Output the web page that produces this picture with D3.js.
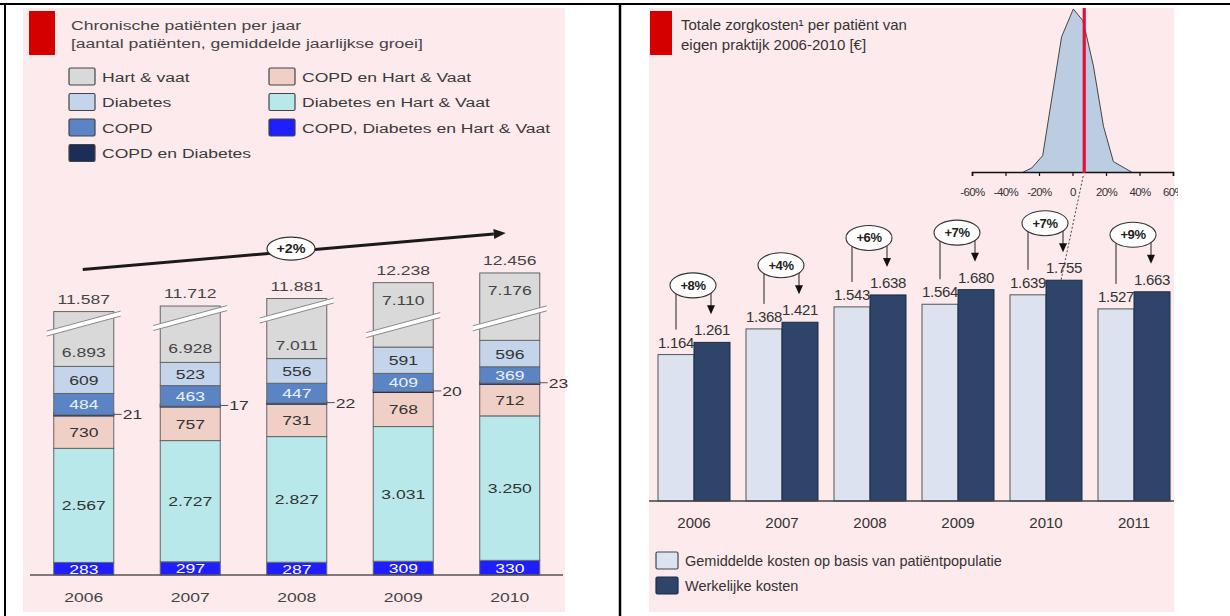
<!DOCTYPE html>
<html><head><meta charset="utf-8">
<script src="https://cdn.jsdelivr.net/npm/d3@7"></script>
<style>
body{margin:0;background:#fff}
svg{display:block}
text{font-family:"Liberation Sans",Arial,sans-serif}
</style>
</head><body>
<svg id="c" width="1230" height="616"></svg>
<script>
// ---------------- DATA ----------------
const years = ["2006","2007","2008","2009","2010"];
const hartVaat = [6893,6928,7011,7110,7176];
const diabetes = [609,523,556,591,596];
const copd = [484,463,447,409,369];
const copdDiabetes = [21,17,22,20,23];
const copdHartVaat = [730,757,731,768,712];
const diabetesHartVaat = [2567,2727,2827,3031,3250];
const copdDiabetesHartVaat = [283,297,287,309,330];
const totals = [11587,11712,11881,12238,12456];
const totalGrowth = "+2%";

const costYears = ["2006","2007","2008","2009","2010","2011"];
const avgCost = [1164,1368,1543,1564,1639,1527];
const actualCost = [1261,1421,1638,1680,1755,1663];
const costGrowth = ["+8%","+4%","+6%","+7%","+7%","+9%"];

const histPct  = [-29.4,-24.4,-17.8,-6.5,0.5,6.1,8.5,12.5,18.5,24.4,30.3,35.3];
const histFreq = [0,2.4,10,83,100,93,83,65,28,6.4,2.9,0];
const histTicks = [-60,-40,-20,0,20,40,60];
const ownGrowth = 7;

// ---------------- HELPERS ----------------
const nl = d3.formatLocale({decimal:",",thousands:".",grouping:[3],currency:["€",""]});
const fmt = nl.format(",d");
const svg = d3.select("#c");
function T(sel,x,y,s,o={}){
  const t = sel.append("text")
    .attr("transform",`translate(${x},${y}) scale(${o.sx||1},1)`)
    .attr("text-anchor",o.anchor||"start")
    .attr("font-size",o.size||14)
    .attr("fill",o.fill||"#333")
    .text(s);
  if(o.weight) t.attr("font-weight",o.weight);
  if(o.ls) t.attr("letter-spacing",o.ls);
  return t;
}
const PINK="#fdeaec", RED="#d40000";

svg.append("rect").attr("width",1230).attr("height",616).attr("fill","#fff");

// ================= LEFT PANEL =================
const L = svg.append("g");
L.append("rect").attr("x",23).attr("y",8).attr("width",542).attr("height",604).attr("fill",PINK);
L.append("rect").attr("x",29).attr("y",11).attr("width",26).attr("height",44).attr("fill",RED);
const LS = 1.3, LF = 13.5;
T(L,71,30,"Chronische patiënten per jaar",{sx:LS,size:LF,fill:"#444"});
T(L,71,48,"[aantal patiënten, gemiddelde jaarlijkse groei]",{sx:LS,size:LF,fill:"#444"});

const series = [
  {key:"cdh", name:"COPD, Diabetes en Hart & Vaat", vals:copdDiabetesHartVaat, fill:"#1e1eff", lab:"#fff"},
  {key:"dh",  name:"Diabetes en Hart & Vaat", vals:diabetesHartVaat, fill:"#b9e8ea", lab:"#333"},
  {key:"ch",  name:"COPD en Hart & Vaat", vals:copdHartVaat, fill:"#f0d0c6", lab:"#333"},
  {key:"cd",  name:"COPD en Diabetes", vals:copdDiabetes, fill:"#1c2d57", lab:"#333", outside:true},
  {key:"c",   name:"COPD", vals:copd, fill:"#5a84c4", lab:"#eef2fa"},
  {key:"d",   name:"Diabetes", vals:diabetes, fill:"#c4d4ea", lab:"#333"},
  {key:"h",   name:"Hart & vaat", vals:hartVaat, fill:"#d9d9d9", lab:"#444"}
];
const legendOrder = [["h","d","c","cd"],["ch","dh","cdh"]];
const sByKey = Object.fromEntries(series.map(s=>[s.key,s]));
legendOrder.forEach((col,ci)=>{
  col.forEach((k,ri)=>{
    const s = sByKey[k];
    const x = ci===0?69:269, y = 68+ri*25.5;
    L.append("rect").attr("x",x).attr("y",y).attr("width",26).attr("height",17)
      .attr("fill",s.fill).attr("stroke","#444").attr("stroke-width",1.2).attr("rx",1.5);
    T(L,x+33,y+13.5,s.name,{sx:LS,size:LF,fill:"#3a3a3a"});
  });
});

const rows = years.map((y,i)=>{const r={year:y}; series.forEach(s=>r[s.key]=s.vals[i]); return r;});
const stacked = d3.stack().keys(series.map(s=>s.key))(rows);
const xL = d3.scalePoint().domain(years).range([30.5,563]).padding(0.5);
const yL = d3.scaleLinear().domain([0,10000]).range([575,575-10000/22.5]);
const breakOmit = 5660;              // amount removed by the axis break
const breakAtTop = [true,true,true,false,false];
const BW = 60;

const bars = L.append("g");
stacked.forEach((layer,li)=>{
  const s = series[li];
  layer.forEach((d,i)=>{
    const x0 = xL(years[i]) - BW/2;
    let y0 = yL(d[0]);
    let y1 = s.key==="h" ? yL(d[1]-breakOmit) : yL(d[1]);
    let h = y0-y1;
    if(s.key==="cd"){ h = Math.max(h,3); y1 = y0 - h; }
    bars.append("rect").attr("x",x0).attr("y",y1).attr("width",BW).attr("height",h)
      .attr("fill",s.fill).attr("stroke",s.key==="cd"?"#1c2d57":"#666").attr("stroke-width",1);
  });
});
stacked.forEach((layer,li)=>{
  const s = series[li];
  layer.forEach((d,i)=>{
    const cx = xL(years[i]);
    const y0 = yL(d[0]);
    if(s.key==="h"){
      const top = yL(d[1]-breakOmit);
      const yc = breakAtTop[i] ? top+12 : y0-22;
      const ly = breakAtTop[i] ? y0-14 : top+17;
      const xa = cx-BW/2-7, xb = cx+BW/2+7, rise=10, th=5;
      bars.append("polygon")
        .attr("points",[[xa,yc+rise+th/2],[xb,yc-rise+th/2],[xb,yc-rise-th/2],[xa,yc+rise-th/2]].map(p=>p.join(",")).join(" "))
        .attr("fill","#fff");
      [-th/2, th/2].forEach(o=>{
        bars.append("line").attr("x1",xa).attr("y1",yc+rise+o).attr("x2",xb).attr("y2",yc-rise+o)
          .attr("stroke","#8a8a8a").attr("stroke-width",1);
      });
      T(bars,cx,ly+5,fmt(s.vals[i]),{anchor:"middle",sx:LS,size:LF,fill:s.lab});
      T(bars,cx,top-8,fmt(totals[i]),{anchor:"middle",sx:LS,size:LF,fill:"#444"});
    } else if(s.outside){
      const yc = y0 - Math.max(y0-yL(d[1]),3)/2;
      const xr = cx+BW/2;
      bars.append("line").attr("x1",xr).attr("x2",xr+8).attr("y1",yc).attr("y2",yc).attr("stroke","#555").attr("stroke-width",1);
      T(bars,xr+9,yc+5,fmt(s.vals[i]),{sx:LS,size:LF,fill:s.lab});
    } else {
      const yc = (y0+yL(d[1]))/2;
      T(bars,cx,yc+5,fmt(s.vals[i]),{anchor:"middle",sx:LS,size:LF,fill:s.lab});
    }
  });
});
L.append("line").attr("x1",30).attr("x2",563).attr("y1",575).attr("y2",575).attr("stroke","#555").attr("stroke-width",1.5);
years.forEach(y=>T(L,xL(y),602,y,{anchor:"middle",sx:LS,size:LF,fill:"#444"}));
{
  const t0 = yL(totals[0]-breakOmit), t1 = yL(totals[totals.length-1]-breakOmit);
  const ax = xL(years[0])-1, ay = t0-42, bx = xL(years[years.length-1])-4, by = t1-40;
  const ang = Math.atan2(by-ay,bx-ax);
  const hl = 12, hw = 5;
  const ex = bx - hl*Math.cos(ang), ey = by - hl*Math.sin(ang);
  L.append("line").attr("x1",ax).attr("y1",ay).attr("x2",ex).attr("y2",ey).attr("stroke","#1a1a1a").attr("stroke-width",3);
  L.append("polygon").attr("points",[[bx,by],[ex - hw*Math.sin(ang), ey + hw*Math.cos(ang)],[ex + hw*Math.sin(ang), ey - hw*Math.cos(ang)]].map(p=>p.join(",")).join(" ")).attr("fill","#1a1a1a");
  const mx = 291, my = ay + (mx-ax)/(bx-ax)*(by-ay) - 3;
  L.append("ellipse").attr("cx",mx).attr("cy",my).attr("rx",24).attr("ry",11.5).attr("fill","#fff").attr("stroke","#333").attr("stroke-width",1.2);
  T(L,mx,my+4.5,totalGrowth,{anchor:"middle",size:12.5,sx:1.15,weight:"bold",fill:"#222"});
}

// ================= RIGHT PANEL =================
const R = svg.append("g");
R.append("rect").attr("x",649).attr("y",8).attr("width",525).attr("height",604).attr("fill",PINK);
R.append("rect").attr("x",650).attr("y",11).attr("width",22).attr("height",44).attr("fill",RED);
T(R,681,30,"Totale zorgkosten¹ per patiënt van",{size:15,fill:"#333"});
T(R,681,50,"eigen praktijk 2006-2010 [€]",{size:15,fill:"#333"});

// histogram
const HB = 172;
const hx = d3.scaleLinear().domain([-60,60]).range([972,1173]);
const hy = d3.scaleLinear().domain([0,100]).range([HB,9]);
svg.append("defs").append("clipPath").attr("id","hc").append("rect").attr("x",900).attr("y",0).attr("width",278).attr("height",220);
const H = R.append("g").attr("clip-path","url(#hc)");
H.append("path").datum(histPct.map((p,i)=>[p,histFreq[i]]))
  .attr("d",d3.line().x(d=>hx(d[0])).y(d=>hy(d[1])))
  .attr("fill","#bccde1").attr("stroke","#333").attr("stroke-width",0.9);
const hAxis = d3.axisBottom(hx).tickValues(histTicks).tickSize(4).tickFormat(d=>d===0?"0":d+"%");
const ha = H.append("g").attr("transform",`translate(0,${HB})`).call(hAxis);
ha.select(".domain").attr("stroke","#111").attr("stroke-width",1.6);
ha.selectAll(".tick line").attr("stroke","#111").attr("stroke-width",1.2);
ha.selectAll(".tick text").attr("font-size",11.5).attr("fill","#333").attr("letter-spacing",-0.6)
  .attr("font-family","'Liberation Sans',Arial,sans-serif").attr("y",16);
H.append("line").attr("x1",hx(ownGrowth)).attr("x2",hx(ownGrowth)).attr("y1",8).attr("y2",HB+1)
  .attr("stroke","#e0103c").attr("stroke-width",3.2);

// bars
const xR = d3.scalePoint().domain(costYears).range([650,1178]).padding(0.5);
const yR = d3.scaleLinear().domain([0,2000]).range([501,501-2000*0.1258]);
const RW = 36;
const RB = R.append("g");
costYears.forEach((yr,i)=>{
  const c = xR(yr);
  const ya = yR(avgCost[i]), yb = yR(actualCost[i]);
  RB.append("rect").attr("x",c-RW).attr("y",ya).attr("width",RW).attr("height",yR(0)-ya)
    .attr("fill","#dde2f0").attr("stroke","#555").attr("stroke-width",1);
  RB.append("rect").attr("x",c).attr("y",yb).attr("width",RW).attr("height",yR(0)-yb)
    .attr("fill","#2e4468").attr("stroke","#1d2b44").attr("stroke-width",1);
  T(RB,c-RW/2,ya-7,fmt(avgCost[i]),{anchor:"middle",size:15,fill:"#333",ls:-0.3});
  T(RB,c+RW/2,yb-7,fmt(actualCost[i]),{anchor:"middle",size:15,fill:"#333",ls:-0.3});
  const ey = yb-57, ex = c-1;
  const lx = c-18, rx = c+17;
  RB.append("line").attr("x1",lx).attr("x2",lx).attr("y1",ey).attr("y2",ya-25).attr("stroke","#222").attr("stroke-width",1);
  const tip = yb-28;
  RB.append("line").attr("x1",rx).attr("x2",rx).attr("y1",ey).attr("y2",tip-7).attr("stroke","#222").attr("stroke-width",1);
  RB.append("polygon").attr("points",`${rx-4},${tip-9} ${rx+4},${tip-9} ${rx},${tip}`).attr("fill","#111");
  RB.append("ellipse").attr("cx",ex).attr("cy",ey).attr("rx",23).attr("ry",12.5).attr("fill","#fff").attr("stroke","#333").attr("stroke-width",1.1);
  T(RB,ex,ey+4.5,costGrowth[i],{anchor:"middle",size:13,fill:"#222",weight:"bold",ls:-0.4});
  T(R,c,528,yr,{anchor:"middle",size:15,fill:"#333"});
});
R.append("line").attr("x1",649).attr("x2",1174).attr("y1",yR(0)).attr("y2",yR(0)).attr("stroke","#444").attr("stroke-width",1.5);
{
  const i = costYears.indexOf("2010");
  R.append("line").attr("x1",hx(ownGrowth)-1).attr("y1",HB+4).attr("x2",xR("2010")+RW/2-3).attr("y2",yR(actualCost[i]))
    .attr("stroke","#333").attr("stroke-width",0.9).attr("stroke-dasharray","2,2");
}
[["Gemiddelde kosten op basis van patiëntpopulatie","#dde2f0","#444"],["Werkelijke kosten","#2e4468","#1d2b44"]].forEach((d,i)=>{
  const y = 552+i*25;
  R.append("rect").attr("x",656).attr("y",y).attr("width",22).attr("height",17).attr("fill",d[1]).attr("stroke",d[2]).attr("stroke-width",1.2).attr("rx",1.5);
  T(R,685,y+14,d[0],{size:14.5,fill:"#333"});
});

// table borders
svg.append("line").attr("x1",0).attr("x2",1230).attr("y1",4).attr("y2",4).attr("stroke","#000").attr("stroke-width",2);
svg.append("line").attr("x1",5).attr("x2",5).attr("y1",3).attr("y2",616).attr("stroke","#000").attr("stroke-width",2);
svg.append("line").attr("x1",620).attr("x2",620).attr("y1",3).attr("y2",616).attr("stroke","#000").attr("stroke-width",2.5);
</script>
</body></html>
